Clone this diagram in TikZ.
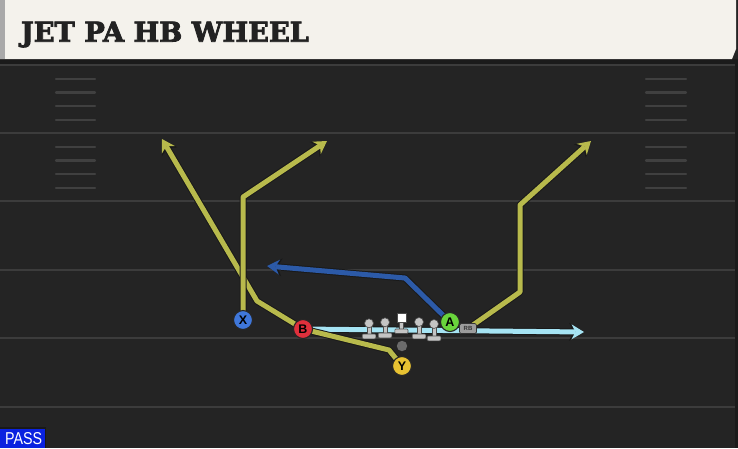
\documentclass[tikz,border=0pt]{standalone}
\usepackage{fontspec}
\usetikzlibrary{arrows.meta}
\newfontfamily\titlefont[BoldFeatures={FakeBold=3}]{DejaVu Serif}
\newfontfamily\labelfont{Liberation Sans}
\definecolor{fieldbg}{HTML}{242424}
\definecolor{topband}{HTML}{1B1B1B}
\definecolor{yardline}{HTML}{3C3C3C}
\definecolor{hashline}{HTML}{404040}
\definecolor{headerbg}{HTML}{F4F2EC}
\definecolor{headerstrip}{HTML}{A9A9A9}
\definecolor{titlecol}{HTML}{222222}
\definecolor{routeY}{HTML}{B8BA4C}
\definecolor{routeBl}{HTML}{2C5AA8}
\definecolor{routeCy}{HTML}{A6E4F4}
\definecolor{plX}{HTML}{3F77DA}
\definecolor{plB}{HTML}{DF303C}
\definecolor{plA}{HTML}{69D53C}
\definecolor{plY}{HTML}{E8C232}
\definecolor{lineman}{HTML}{C4C4C4}
\definecolor{qbcol}{HTML}{6B6B6B}
\definecolor{rbcol}{HTML}{9C9C9C}
\definecolor{passblue}{HTML}{0A22E0}
\newcommand\droute[2]{\draw[routeout] #2; \draw[#1] #2;}
\begin{document}
\begin{tikzpicture}[x=1pt,y=-1pt,
  routeout/.style={draw=black!90, line width=7pt, line join=round,
    -{Stealth[length=15pt,width=18pt,inset=4.5pt,line width=0pt]}},
  rt/.style={line width=5pt, line join=round,
    -{Stealth[length=12.5pt,width=15pt,inset=4pt,line width=0pt]}},
  rtY/.style={rt, draw=routeY, fill=none},
  rtBl/.style={rt, draw=routeBl},
  rtCy/.style={rt, draw=routeCy},
  player/.style={circle, minimum size=19pt, inner sep=0pt, draw=black!85,
    line width=1.1pt, font=\labelfont\bfseries\fontsize{12.5}{12.5}\selectfont, text=black},
  yard/.style={draw=yardline, line width=2.6pt},
  hash/.style={draw=hashline, line width=2.2pt, line cap=round},
  lmfill/.style={fill=lineman, draw=black!70, line width=0.6pt}
]
\useasboundingbox (0,0) rectangle (738,448);
% background
\fill[fieldbg] (0,0) rectangle (738,448);
\fill[topband] (0,59) rectangle (738,64);
\fill[topband] (735,59) rectangle (738,448);
% yard lines
\foreach \yy in {65,133,201,270,338,407} \draw[yard] (0,\yy) -- (735,\yy);
% hash marks
\foreach \base in {65,133} {
  \foreach \off in {14,27.5,41,55} {
    \draw[hash] (56,\base+\off) -- (95,\base+\off);
    \draw[hash] (646,\base+\off) -- (686,\base+\off);
  }
}
% header
\fill[headerbg] (0,0) -- (736,0) -- (736,49) -- (732,59) -- (0,59) -- cycle;
\fill[headerstrip] (0,0) rectangle (5,59);
\node[anchor=base west, inner sep=0pt, text=titlecol] (title) at (20.7,41.7)
  {\resizebox{288pt}{20pt}{\titlefont\bfseries JET PA HB WHEEL}};
% PASS tag
\fill[black!90] (0,427) rectangle (46,448);
\fill[passblue] (0,428.5) rectangle (45,448);
\node[anchor=base west, inner sep=0pt, text=white] (pass) at (5,444)
  {\resizebox{37pt}{12pt}{\labelfont PASS}};

% player coordinates
\coordinate (Xc) at (243,320);
\coordinate (Bc) at (303,329);
\coordinate (Ac) at (450,322);
\coordinate (Yc) at (402,366);
\coordinate (RBc) at (468,328.5);

% routes
\droute{rtCy}{(Bc) -- (584,332)}
\droute{rtY}{(Yc) -- (389,350) -- (Bc) -- (257,301) -- (162,139)}
\droute{rtY}{(Xc) -- (243,197) -- (327,141)}
\droute{rtY}{(RBc) -- (520,292) -- (520,205) -- (591,141)}
\droute{rtBl}{(Ac) -- (405,278) -- (267,266)}

% linemen
\foreach \lx/\hy/\by in {369/323.3/334, 385/322.3/333, 419/322/334, 434/324/336} {
  \draw[lmfill] (\lx-2,\hy) rectangle (\lx+2,\by+1);
  \draw[lmfill, rounded corners=1pt] (\lx-6.8,\by) rectangle (\lx+6.8,\by+4.8);
  \draw[lmfill] (\lx,\hy) circle (4.5pt);
}
% center
\draw[lmfill] (399.4,321) rectangle (403.4,330);
\draw[lmfill, rounded corners=1pt] (394.8,329) rectangle (408,333.5);
\draw[fill=white, draw=black!70, line width=0.6pt] (396.8,313.2) rectangle (406,322.4);
% QB
\fill[qbcol] (402,346) circle (5.2pt);

% players
\node[player, fill=plX] (X) at (Xc) {X};
\node[player, fill=plB] (B) at (Bc) {B};
\node[player, fill=plA] (A) at (Ac) {A};
\node[player, fill=plY] (Y) at (Yc) {Y};
\node[draw=black!80, fill=rbcol, rounded corners=1.5pt, line width=0.7pt,
  minimum width=17pt, minimum height=10pt, inner sep=0pt,
  font=\labelfont\bfseries\fontsize{6}{6}\selectfont, text=black!80] (RB) at (RBc) {RB};
\end{tikzpicture}
\end{document}
